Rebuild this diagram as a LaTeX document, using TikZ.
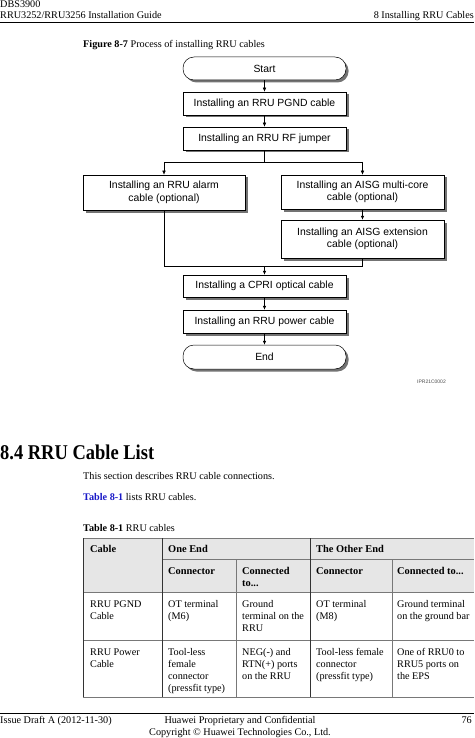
\documentclass[tikz,border=0pt]{standalone}
\usepackage{fontspec}
\setmainfont{Liberation Serif}
\newfontfamily\flowfont{Liberation Sans}
\usetikzlibrary{arrows.meta,shadows}
\definecolor{linkblue}{RGB}{25,25,200}
\definecolor{headgray}{RGB}{230,230,230}
\definecolor{tgray}{RGB}{120,120,120}
\newcommand{\tcell}[1]{\parbox[t]{80pt}{\raggedright #1}}
\begin{document}
\begin{tikzpicture}[x=1pt,y=-1pt,
  flowbox/.style={draw=black, line width=0.5pt, fill=white, minimum width=163pt,
    align=center, inner sep=1pt, font=\flowfont\fontsize{10.4}{12.5}\selectfont,
    drop shadow={shadow xshift=2.5pt, shadow yshift=-2.5pt, fill=black!55, opacity=1}},
  termbox/.style={flowbox, rounded corners=11pt},
  arr/.style={-{Latex[length=4pt,width=3.5pt]}, line width=0.5pt},
  conn/.style={line width=0.5pt},
  txt/.style={anchor=base west, inner sep=0pt, font=\fontsize{10.2}{12.3}\selectfont},
  htxt/.style={txt, font=\bfseries\fontsize{10.4}{12.3}\selectfont},
  tline/.style={draw=tgray, line width=0.6pt},
  vline/.style={draw=black!80, line width=0.8pt}]
\useasboundingbox (0,0) rectangle (474,738);
\fill[white] (0,0) rectangle (474,738);

% page header
\node[txt] (h1) at (0,8) {DBS3900};
\node[txt] (h2) at (0,19) {RRU3252/RRU3256 Installation Guide};
\node[txt, anchor=base east] (h3) at (474,19) {8 Installing RRU Cables};
\draw[line width=0.6pt] (0,22) -- (474,22);

% figure caption
\node[txt] (cap) at (83,48) {\textbf{Figure 8-7} Process of installing RRU cables};

% flowchart
\node[termbox, minimum height=23pt] (start) at (264.5,68.5) {Start};
\node[flowbox, minimum height=23pt] (pgnd) at (264.5,103.5) {Installing an RRU PGND cable};
\node[flowbox, minimum height=23pt] (rf) at (264.5,138.5) {Installing an RRU RF jumper};
\node[flowbox, minimum width=162pt, minimum height=35pt] (alarm) at (164,192.5) {Installing an RRU alarm\\cable (optional)};
\node[flowbox, minimum height=34pt] (aisgmc) at (362.5,192) {Installing an AISG multi-core\\cable (optional)};
\node[flowbox, minimum height=38pt] (aisgext) at (362.5,239) {Installing an AISG extension\\cable (optional)};
\node[flowbox, minimum height=22pt] (cpri) at (264.5,286) {Installing a CPRI optical cable};
\node[flowbox, minimum height=23pt] (power) at (264.5,321.5) {Installing an RRU power cable};
\node[termbox, minimum height=24pt] (end) at (264.5,357) {End};
\node[anchor=base east, inner sep=0pt, text=black!70, font=\flowfont\fontsize{5}{6}\selectfont] (ipr) at (446,383) {IPR21C0002};

\coordinate (j1) at (264.5,162);
\coordinate (jl) at (164,162);
\coordinate (jr) at (362.5,162);
\coordinate (j2) at (264.5,266);
\coordinate (bl) at (164,266);
\coordinate (br) at (362.5,266);
\draw[arr] (start) -- (pgnd);
\draw[arr] (pgnd) -- (rf);
\draw[conn] (rf.south) -- (j1);
\draw[conn] (jl) -- (jr);
\draw[arr] (jl) -- (alarm.north);
\draw[arr] (jr) -- (aisgmc.north);
\draw[arr] (aisgmc) -- (aisgext);
\draw[conn] (alarm.south) -- (bl) -- (br) -- (aisgext.south);
\draw[arr] (j2) -- (cpri.north);
\draw[arr] (cpri) -- (power);
\draw[arr] (power) -- (end);

% section
\node[anchor=base west, inner sep=0pt, font=\bfseries\fontsize{21}{24}\selectfont, xscale=0.88, transform shape] (sec) at (0,459) {8.4 RRU Cable List};
\node[txt] (p1) at (83,479) {This section describes RRU cable connections.};
\node[txt] (p2) at (83,500) {\textcolor{linkblue}{\textbf{Table 8-1}} lists RRU cables.};
\node[txt] (tcap) at (83,531) {\textbf{Table 8-1} RRU cables};

% table
\fill[headgray] (83,538) rectangle (474,592);
\draw[tline] (83,538) -- (474,538);
\draw[tline] (162,559) -- (474,559);
\draw[tline] (83,592) -- (474,592);
\draw[tline] (83,640) -- (474,640);
\draw[tline] (83,697) -- (474,697);
\draw[vline] (83,538) -- (83,697);
\draw[vline] (162,538) -- (162,697);
\draw[tline] (236,559) -- (236,697);
\draw[vline] (310,538) -- (310,697);
\draw[tline] (392,559) -- (392,697);

\node[htxt] (c11) at (90,552) {Cable};
\node[htxt] (c12) at (168,552) {One End};
\node[htxt] (c13) at (316,552) {The Other End};
\node[htxt] (c22) at (168,574) {Connector};
\node[htxt] (c23) at (242,574) {\tcell{Connected\\to...}};
\node[htxt] (c24) at (316,574) {Connector};
\node[htxt] (c25) at (397,574) {Connected to...};

\node[txt] (r11) at (90,607) {\tcell{RRU PGND\\Cable}};
\node[txt] (r12) at (168,607) {\tcell{OT terminal\\(M6)}};
\node[txt] (r13) at (242,607) {\tcell{Ground\\terminal on the\\RRU}};
\node[txt] (r14) at (316,607) {\tcell{OT terminal\\(M8)}};
\node[txt] (r15) at (397,607) {\tcell{Ground terminal\\on the ground bar}};

\node[txt] (r21) at (90,655) {\tcell{RRU Power\\Cable}};
\node[txt] (r22) at (168,655) {\tcell{Tool-less\\female\\connector\\(pressfit type)}};
\node[txt] (r23) at (242,655) {\tcell{NEG(-) and\\RTN(+) ports\\on the RRU}};
\node[txt] (r24) at (316,655) {\tcell{Tool-less female\\connector\\(pressfit type)}};
\node[txt] (r25) at (397,655) {\tcell{One of RRU0 to\\RRU5 ports on\\the EPS}};

% footer
\draw[line width=0.6pt] (0,713) -- (474,713);
\node[txt] (f1) at (0,723) {Issue Draft A (2012-11-30)};
\node[txt, anchor=base] (f2) at (240,723) {Huawei Proprietary and Confidential};
\node[txt, anchor=base] (f3) at (240,735) {Copyright \textcopyright{} Huawei Technologies Co., Ltd.};
\node[txt, anchor=base east] (f4) at (472,723) {76};
\end{tikzpicture}
\end{document}
